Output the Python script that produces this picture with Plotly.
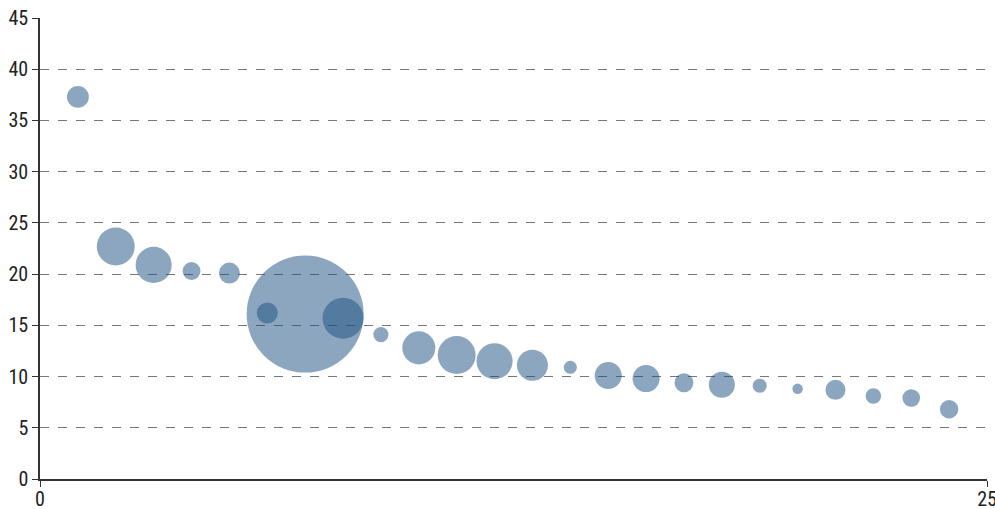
import plotly.graph_objects as go

x_vals = list(range(1, 25))
y_vals = [37.3, 22.7, 20.9, 20.3, 20.1, 16.2, 16.1, 15.7, 14.1, 12.8, 12.1, 11.5,
          11.1, 10.9, 10.1, 9.8, 9.4, 9.2, 9.1, 8.8, 8.7, 8.1, 7.9, 6.8]
# bubble sizes (relative area values)
size_vals = [4.8, 14.4, 13.0, 3.2, 4.4, 4.4, 137.0, 16.8, 2.3, 10.9, 14.4, 13.0,
             9.6, 1.7, 7.3, 7.3, 3.6, 6.8, 2.0, 1.1, 4.0, 2.4, 3.1, 3.4]

x_ticks = [0, 25]
y_ticks = [0, 5, 10, 15, 20, 25, 30, 35, 40, 45]

FONT = "Roboto Condensed, Liberation Sans Narrow, Roboto, sans-serif"

fig = go.Figure(go.Scatter(
    x=x_vals, y=y_vals, mode="markers",
    marker=dict(size=size_vals, sizemode="area", sizeref=0.02,
                color="rgb(25,77,128)", opacity=0.5, line=dict(width=0)),
    hoverinfo="x+y",
))

fig.update_layout(
    width=995, height=509,
    margin=dict(l=40, r=8, t=18, b=30, autoexpand=False),
    plot_bgcolor="white", paper_bgcolor="white",
    showlegend=False,
    font=dict(family=FONT, size=20, color="#222"),
)
fig.update_xaxes(
    range=[0, 25], tickvals=x_ticks, ticktext=[str(v) for v in x_ticks],
    showgrid=False, zeroline=False, automargin=False,
    ticklabeloverflow="allow", ticklabelstandoff=-5,
    showline=True, linecolor="#333", linewidth=1.5,
    ticks="outside", ticklen=6, tickcolor="#333", tickwidth=1,
)
fig.update_yaxes(
    range=[0, 45], tickvals=y_ticks, automargin=False,
    ticklabeloverflow="allow",
    showgrid=True, gridcolor="#777", griddash="dash", gridwidth=1,
    zeroline=False,
    showline=True, linecolor="#333", linewidth=1.5,
    ticks="outside", ticklen=6, tickcolor="#333", tickwidth=1,
)

fig.write_html(
    "out.html",
    config={"displayModeBar": False},
    post_script="document.body.style.margin='0';document.body.style.overflow='hidden';",
)
